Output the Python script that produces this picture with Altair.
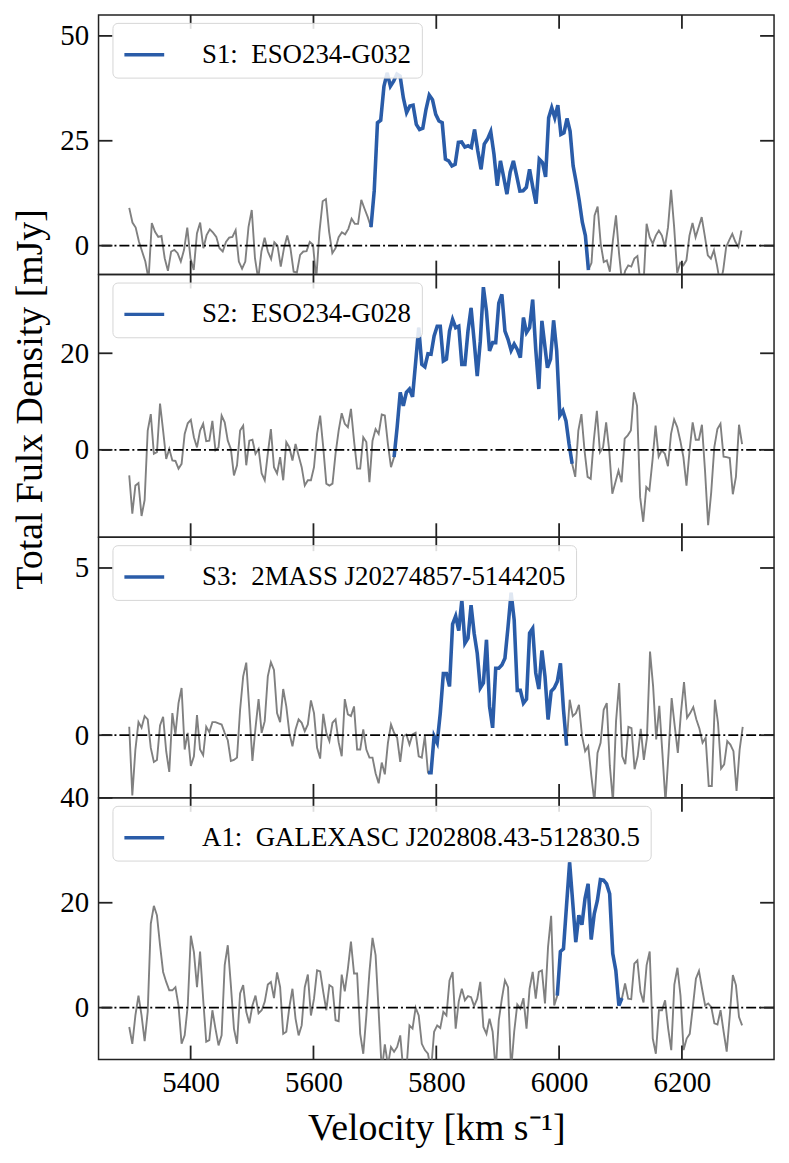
import altair as alt
import numpy as np
import pandas as pd

FONT = "Liberation Serif"
GRAY = "#808080"
BLUE = "#2a5ca8"
FRAME = "#222222"
TICK = 14
W = 679

X_DOMAIN = [5250, 6350]
X_TICKS = [5400, 5600, 5800, 6000, 6200]

# ---------------- Panel 1 ----------------
P1_LABEL = "S1:\u2002ESO234-G032"
P1_EDGES = [(5300, 5636), (5641, 5973), (5978, 6297)]
P1_A = [9.0, 5.5, 4.3, 1.0, -1.4, -3.8, -8.0, 5.4, 3.3, 2.1,
        2.3, -3.0, -6.0, -1.4, -1.0, -1.8, -3.8, -1.0, 4.3, -3.0,
        -5.8, 2.9, 5.5, -0.6, 2.5, 3.9, 3.1, 2.1, -0.6, -1.4,
        0.9, 1.9, 2.1, 3.7, -3.8, -5.5, -3.8, 4.5, 8.5, -3.0,
        -8.0, -1.4, 1.9, -1.4, -3.2, 0.8, 0.0, -5.0, -0.6, 2.4,
        -0.6, -6.2, -6.4, -2.2, -1.4, -1.3, 0.9, 0.2, -8.0, 3.3,
        10.6, 11.1, 3.3, -1.8, -0.6]
P1_B = [2.0, 3.2, 2.7, 4.0, 6.4, 5.2, 5.2, 10.9, 8.8, 6.8,
        4.4, 13.1, 29.3, 29.9, 38.0, 41.2, 38.0, 39.2, 40.9, 40.4,
        35.2, 31.7, 33.3, 33.5, 28.9, 27.7, 28.0, 32.5, 35.9, 34.8,
        31.3, 29.7, 29.3, 20.6, 20.2, 19.0, 19.4, 24.6, 24.7, 23.5,
        23.8, 23.4, 27.7, 22.6, 18.2, 24.2, 25.4, 27.2, 21.8, 14.3,
        20.2, 16.3, 12.3, 17.5, 20.2, 16.7, 13.0, 13.1, 13.9, 18.2,
        13.9, 10.0, 20.6, 19.8]
P1_C = [16.4, 30.5, 32.9, 30.5, 33.5, 26.5, 26.9, 30.3, 27.3, 19.0,
        15.1, 10.7, 5.6, 2.4, -5.8, -4.1, 7.2, 9.3, 0.5, -3.9,
        -3.5, -6.2, 1.3, 7.2, -1.9, -9.0, -6.0, -4.7, -5.0, -3.1,
        -2.5, -9.0, -9.0, 5.2, 2.0, 0.5, 2.4, 3.6, 2.4, -0.3,
        4.4, 13.3, 4.4, -6.5, -4.1, -4.7, -3.5, 2.4, 5.4, 2.0,
        4.4, 6.8, 2.4, -2.3, -3.1, -1.1, -4.7, -9.0, -6.0, -0.3,
        1.3, 2.8, 0.9, -0.3, 3.6]
P1_BLUE = (5691, 6050)
P1_YDOM = [-6.9, 55]
P1_YTICKS = [0, 25, 50]

# ---------------- Panel 2 ----------------
P2_LABEL = "S2:\u2002ESO234-G028"
P2_EDGES = [(5300, 5641), (5646, 5972), (5981, 6298)]
P2_A = [-5.3, -13.2, -7.4, -6.9, -13.7, -10.4, 4.0, 7.4, -0.8, -0.5,
        9.6, 4.0, -1.9, 0.2, -2.2, -2.3, -3.9, -2.9, 3.3, 5.5,
        6.2, 2.6, 0.5, 4.0, 5.4, 1.8, 1.9, 6.0, -0.1, 0.5,
        7.1, 5.7, 1.9, 0.2, -5.3, -3.2, 4.0, 5.0, -3.2, 1.9,
        2.1, -0.8, 0.2, -4.9, -6.3, -0.8, 4.3, -3.6, -4.9, -1.5,
        -6.3, 1.6, 0.5, -2.2, 1.2, -1.2, -3.6, -7.4, -6.3, -6.3,
        -3.6, 3.3, 7.1, 0.5, -7.0, -7.4, -7.0, -0.8, 4.0]
P2_B = [7.6, 5.4, 4.7, 8.5, 1.9, -3.9, -3.9, 2.6, 1.6, -6.7,
        1.9, 4.3, 3.3, 7.3, 7.1, 1.2, -3.6, -1.5, 4.7, 11.9,
        9.1, 11.9, 12.6, 11.0, 18.1, 25.3, 17.7, 17.2, 19.9, 19.8,
        23.6, 25.6, 25.6, 18.4, 18.8, 24.6, 27.0, 25.3, 25.6, 17.7,
        17.7, 24.6, 29.4, 22.5, 15.3, 22.5, 33.7, 28.7, 20.5, 22.2,
        22.2, 30.4, 32.2, 24.6, 22.9, 20.6, 21.9, 20.8, 19.1, 27.4,
        24.3, 25.3, 31.1, 20.8, 12.6, 26.7]
P2_C = [17.0, 18.8, 26.8, 20.5, 7.1, 8.1, 6.0, 1.2, -2.9, -5.6,
        4.0, 7.4, -0.1, -5.6, -6.0, 1.9, 8.1, -0.5, 0.5, 5.7,
        -0.1, -9.1, -6.7, -4.3, -6.7, 2.3, 3.0, 4.0, 11.9, 9.1,
        -9.8, -14.9, -7.7, -8.4, -2.2, 5.0, -1.4, -0.1, -0.8, -3.4,
        3.3, 6.3, 4.7, 1.9, -1.5, -7.4, -0.1, 5.7, 2.1, 2.1,
        5.2, -4.3, -15.6, -8.8, 0.5, 4.3, 5.4, -1.4, -1.5, -1.7,
        -9.2, -5.6, 5.2, 1.2]
P2_BLUE = (5729, 6023.5)
P2_YDOM = [-18.1, 36.3]
P2_YTICKS = [0, 20]

# ---------------- Panel 3 ----------------
P3_LABEL = "S3:\u20022MASS J20274857-5144205"
P3_EDGES = [(5300, 5641), (5646, 5972), (5977, 6299)]
P3_A = [0.25, -1.8, -0.43, 0.39, 0.22, 0.57, 0.47, -0.38, -0.8, -0.74,
        0.29, 0.55, -0.48, -1.1, 0.66, 0.02, 0.96, 1.41, -0.43, 0.07,
        -0.92, -0.63, 0.6, -0.43, -0.6, 0.25, 0.09, 0.39, 0.39, 0.35,
        0.32, 0.07, -0.15, -0.77, -0.74, -0.67, 0.76, 1.76, 2.17, 0.76,
        -0.77, 0.22, 1.08, 0.07, 0.42, 1.76, 2.18, 1.95, 0.66, 0.39,
        1.38, 0.86, 0.07, -0.33, 0.17, 0.47, 0.37, 0.12, 0.32, 1.04,
        0.66, -0.38, -0.7, 0.64, 0.07, -0.18, 0.37, 0.47, -0.21]
P3_B = [-0.63, 1.08, 0.62, 0.57, 0.86, -0.43, -0.43, 0.17, -0.43, -0.67,
        -0.67, -1.14, -1.44, -0.82, -1.17, -0.23, 0.32, 0.07, -0.08, -0.8,
        -0.03, 0.02, -0.28, 0.02, 0.07, -0.63, -0.67, -0.03, -1.12, -1.12,
        -0.03, -0.23, 0.66, 1.84, 1.84, 1.46, 3.32, 3.56, 3.13, 4.04,
        2.75, 2.9, 3.89, 3.05, 2.45, 1.41, 1.56, 2.85, 0.86, 0.22,
        2.0, 2.0, 2.1, 2.3, 3.24, 4.26, 3.44, 1.34, 1.34, 0.96,
        1.08, 3.05, 3.19, 1.86, 1.38, 2.53]
P3_C = [1.76, 0.47, 1.31, 1.41, 1.61, 2.15, 0.76, -0.31, 1.06, 0.57,
        0.66, 0.91, -0.03, -0.48, -0.33, -1.22, -2.0, -0.53, -0.23, 0.76,
        0.96, -0.92, -2.0, 0.42, 1.56, -0.63, -0.87, 0.25, 0.21, -1.02,
        -0.63, 0.19, -0.74, -0.08, 2.5, 1.46, -0.13, 0.88, -0.53, -2.0,
        -0.53, 1.11, 0.27, -0.53, 0.66, 1.59, 0.52, 0.66, 0.84, 0.47,
        0.19, -0.23, -0.08, -1.52, -1.52, 1.06, 0.37, -1.0, -0.87, -0.18,
        -0.28, -0.48, -1.67, -0.43, 0.25]
P3_BLUE = (5784, 6014.5)
P3_YDOM = [-1.875, 5.92]
P3_YTICKS = [0, 5]

# ---------------- Panel 4 ----------------
P4_LABEL = "A1:\u2002GALEXASC J202808.43-512830.5"
P4_EDGES = [(5300, 5641), (5646, 5972), (5977, 6298)]
P4_A = [-3.7, -6.9, -1.5, 2.3, -1.5, -6.4, -0.8, 16.0, 19.4, 17.6,
        11.9, 6.8, 4.9, 3.3, 3.3, 3.9, 0.4, -6.9, -5.3, 0.4,
        13.7, 10.6, 3.9, 10.7, 1.7, -6.5, -6.2, -0.5, -4.0, -7.2,
        -5.3, 8.1, 11.9, 4.3, -4.0, -6.9, 2.7, 4.3, -0.8, -3.0,
        0.4, 2.3, -1.1, -0.5, 1.1, 4.4, 4.9, 1.8, 6.7, 3.9,
        -5.0, -4.6, 0.1, 3.6, -2.1, -5.3, -3.4, 3.9, 6.3, -1.5,
        1.7, 7.1, 6.9, 3.0, -0.5, 4.3, 3.9, -2.4, -2.6]
P4_B = [6.3, 3.1, 7.4, 12.6, 6.5, 6.5, -5.0, -8.8, -1.5, 6.8,
        13.3, 10.0, -0.8, -12.0, -7.0, -11.0, -7.5, -8.4, -7.5, -5.3,
        -12.0, -12.0, -3.4, -4.0, 0.0, -1.5, -6.9, -8.1, -8.8, -12.0,
        -4.6, -3.4, -3.9, -0.8, -1.5, 5.2, 6.8, -4.0, 1.2, 3.6,
        1.4, 2.2, 2.0, 0.3, 1.7, 4.9, -3.7, -5.0, -2.1, -4.6,
        -12.0, -2.4, 1.7, 5.2, 3.9, -12.0, -4.6, 0.6, -0.2, 1.8,
        -4.0, 3.6, 6.8, 1.7, 6.8, 7.1]
P4_C = [0.8, 11.6, 17.5, 0.4, 2.3, 10.7, 11.2, 19.5, 27.7, 20.1,
        12.5, 17.6, 15.8, 20.8, 23.6, 13.0, 17.9, 20.4, 24.4, 24.3,
        23.6, 21.7, 10.3, 7.1, 0.4, 1.8, 4.6, 1.7, 1.6, 8.4,
        9.0, 3.0, 1.0, 8.1, 10.7, -5.9, -8.8, -0.5, -0.5, 1.4,
        -4.0, -8.1, 4.4, 7.6, 2.3, -8.1, -5.9, -5.0, 0.1, 5.5,
        7.0, 3.6, 0.4, 0.8, 0.1, -3.0, -3.2, -0.5, -4.6, -8.4,
        -1.5, 6.2, 4.3, -1.8, -3.4]
P4_BLUE = (5994.5, 6105)
P4_YDOM = [-9.9, 40]
P4_YTICKS = [0, 20, 40]


def spectrum(edges, segs):
    v = np.concatenate([np.linspace(a, b, len(s)) for (a, b), s in zip(edges, segs)])
    f = np.concatenate([np.asarray(s, dtype=float) for s in segs])
    return pd.DataFrame({"v": v, "f": f})


def panel(label, edges, segs, blue, ydom, yticks, h, ytitle="", bottom=False):
    df = spectrum(edges, segs)
    df["label"] = label
    bdf = df[(df["v"] >= blue[0]) & (df["v"] <= blue[1])]
    xs = alt.Scale(domain=X_DOMAIN, nice=False, zero=False)
    ys = alt.Scale(domain=ydom, nice=False, zero=False)

    if bottom:
        xaxis = alt.Axis(values=X_TICKS, format="d", title="Velocity [km s\u207b\u00b9]",
                         labelPadding=9, titlePadding=12)
    else:
        xaxis = None
    ykw = dict(values=yticks, labelPadding=10, title=ytitle, titlePadding=10)
    if ytitle:
        ykw["titleY"] = h / 2 - 7
    yaxis = alt.Axis(**ykw)

    X = alt.X("v:Q", scale=xs, axis=xaxis)
    Y = alt.Y("f:Q", scale=ys, axis=yaxis)

    gray = alt.Chart(df).mark_line(color=GRAY, strokeWidth=1.9, clip=True).encode(x=X, y=Y)
    bl = alt.Chart(bdf).mark_line(strokeWidth=3.6, clip=True).encode(
        x=X, y=Y,
        color=alt.Color(
            "label:N",
            scale=alt.Scale(domain=[label], range=[BLUE]),
            legend=alt.Legend(
                orient="none", legendX=14, legendY=8, title=None,
                symbolType="stroke", symbolSize=1600, symbolStrokeWidth=3.5,
                labelFont=FONT, labelFontSize=27, labelColor="black",
                labelOffset=36, labelLimit=800, padding=10,
                fillColor="rgba(255,255,255,0.85)", strokeColor="#d6d6d6",
                cornerRadius=5,
            ),
        ),
    )
    zero = alt.Chart(pd.DataFrame({"z": [0]})).mark_rule(
        color="black", strokeWidth=1.8, strokeDash=[10, 3, 2, 3]
    ).encode(y=alt.Y("z:Q", scale=ys, axis=yaxis))

    yt = pd.DataFrame({"t": yticks})
    xt = pd.DataFrame({"t": X_TICKS})
    rk = dict(color=FRAME, strokeWidth=1.8)
    lt = alt.Chart(yt).mark_rule(**rk).encode(
        y=alt.Y("t:Q", scale=ys, axis=yaxis), x=alt.value(0), x2=alt.value(TICK))
    rt = alt.Chart(yt).mark_rule(**rk).encode(
        y=alt.Y("t:Q", scale=ys, axis=yaxis), x=alt.value(W - TICK), x2=alt.value(W))
    bt = alt.Chart(xt).mark_rule(**rk).encode(
        x=alt.X("t:Q", scale=xs, axis=xaxis), y=alt.value(h - TICK), y2=alt.value(h))
    tt = alt.Chart(xt).mark_rule(**rk).encode(
        x=alt.X("t:Q", scale=xs, axis=xaxis), y=alt.value(0), y2=alt.value(TICK))

    return alt.layer(gray, bl, zero, lt, rt, bt, tt).properties(width=W, height=h)


p1 = panel(P1_LABEL, P1_EDGES, [P1_A, P1_B, P1_C], P1_BLUE, P1_YDOM, P1_YTICKS, 261)
p2 = panel(P2_LABEL, P2_EDGES, [P2_A, P2_B, P2_C], P2_BLUE, P2_YDOM, P2_YTICKS, 264,
           ytitle="Total Fulx Density [mJy]")
p3 = panel(P3_LABEL, P3_EDGES, [P3_A, P3_B, P3_C], P3_BLUE, P3_YDOM, P3_YTICKS, 262)
p4 = panel(P4_LABEL, P4_EDGES, [P4_A, P4_B, P4_C], P4_BLUE, P4_YDOM, P4_YTICKS, 263,
           bottom=True)

chart = (
    alt.vconcat(p1, p2, p3, p4, spacing=0, bounds="flush")
    .resolve_scale(color="independent")
    .resolve_legend(color="independent")
    .properties(padding={"left": 3, "top": 2, "right": 5, "bottom": 2})
    .configure_view(stroke=FRAME, strokeWidth=1.5)
    .configure_axis(
        labelFont=FONT, labelFontSize=29, labelColor="black",
        titleFont=FONT, titleFontSize=38, titleFontWeight="normal", titleColor="black",
        grid=False, ticks=False, domain=False,
    )
)

chart.save("out.html", embed_options={"renderer": "svg", "actions": False})
